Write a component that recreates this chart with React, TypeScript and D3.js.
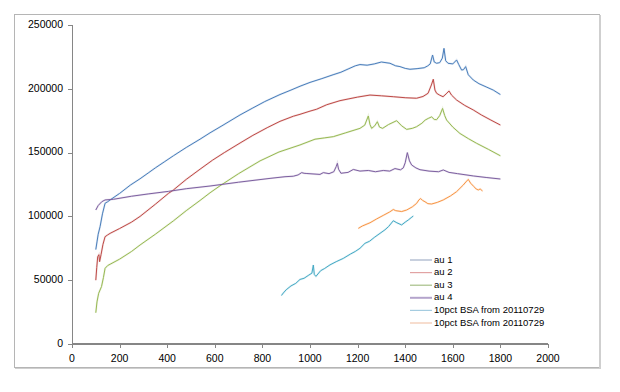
import * as d3 from "d3";

const W = 620;
const H = 392;
const MARGIN = { top: 25, right: 72, bottom: 48, left: 72 }; // plot area 72..548 x 25..344

// x ticks / y ticks
const xTicks = [0, 200, 400, 600, 800, 1000, 1200, 1400, 1600, 1800, 2000];
const yTicks = [0, 50000, 100000, 150000, 200000, 250000];

// series: [x, y]
const au1: [number, number][] = [
  [100, 74000], [105, 80000], [110, 86000], [118, 92000], [128, 102000], [139, 110300], [150, 111500],
  [160, 112900], [200, 118000], [245, 124500], [286, 129500], [320, 134000], [350, 138000], [390, 143000],
  [426, 147500], [480, 154000], [538, 160500], [580, 165500], [630, 171000], [706, 179500], [760, 185000],
  [810, 190000], [874, 195500], [920, 199000], [958, 202000], [1000, 205000], [1050, 208000],
  [1097, 211000], [1130, 213000], [1160, 215500], [1190, 218000], [1210, 219000],
  [1240, 218500], [1270, 219500], [1300, 221000], [1336, 220000], [1360, 218000], [1378, 217400],
  [1400, 216000], [1420, 215300], [1450, 215800], [1480, 216500], [1495, 218000], [1505, 219500],
  [1515, 226500], [1522, 221000], [1532, 220000], [1545, 220500], [1556, 224000], [1563, 231700],
  [1570, 222000], [1580, 220000], [1600, 219500], [1616, 222600], [1625, 219000], [1637, 214700],
  [1645, 215000], [1654, 217400], [1665, 211000], [1686, 206900], [1710, 204000], [1740, 201500],
  [1770, 199000], [1800, 195500],
];

const au2: [number, number][] = [
  [100, 50000], [104, 60000], [108, 68400], [113, 70000], [116, 64500], [122, 70000], [130, 78000],
  [139, 84100], [150, 85500], [160, 86700], [200, 90500], [250, 95500], [286, 100000], [350, 109500],
  [405, 118000], [426, 120700], [480, 129000], [538, 137000], [590, 144000], [640, 150000], [706, 157500],
  [760, 163500], [820, 169500], [874, 174500], [930, 178500], [958, 180000], [1000, 182500], [1028, 184000],
  [1070, 187500], [1126, 190700], [1160, 192000], [1200, 193500], [1252, 195100], [1300, 194500],
  [1350, 193800], [1400, 193000], [1448, 192600], [1475, 194000], [1496, 196500], [1510, 203000],
  [1518, 207500], [1525, 199000], [1532, 196500], [1545, 195000], [1559, 193800], [1572, 196000],
  [1584, 198300], [1595, 195000], [1616, 191200], [1650, 187000], [1686, 183400], [1720, 179500],
  [1760, 175500], [1800, 171600],
];

const au3: [number, number][] = [
  [100, 24500], [105, 33000], [112, 39700], [124, 45000], [132, 52000], [139, 59300], [150, 61500],
  [160, 62500], [200, 66500], [250, 72500], [286, 77600], [350, 86000], [426, 96500], [480, 104500],
  [538, 112500], [580, 118500], [622, 124000], [700, 133500], [790, 143500], [870, 150500], [958, 156000],
  [1021, 160500], [1060, 161500], [1098, 162500], [1150, 165500], [1210, 169000], [1230, 171500],
  [1245, 178700], [1252, 172000], [1259, 169000], [1272, 171000], [1283, 174200], [1292, 170000],
  [1305, 169000], [1330, 172000], [1364, 175000], [1385, 171000], [1406, 168200], [1430, 169000],
  [1448, 170300], [1470, 173000], [1484, 175500], [1497, 176800], [1511, 178000], [1522, 176000],
  [1532, 175800], [1545, 179000], [1557, 184600], [1566, 179000], [1574, 175500], [1600, 170000],
  [1630, 165000], [1665, 161000], [1700, 157300], [1750, 152500], [1800, 147500],
];

const au4: [number, number][] = [
  [100, 105000], [110, 108500], [125, 111500], [139, 112900], [174, 113400], [250, 115800], [320, 117600],
  [405, 119600], [480, 121700], [580, 123800], [700, 126800], [832, 129800], [895, 131100], [930, 131500],
  [950, 132500], [965, 134300], [975, 133800], [987, 133600], [1042, 132900], [1056, 134300],
  [1080, 133500], [1100, 135000], [1110, 139000], [1115, 141600], [1120, 137000], [1130, 133800],
  [1160, 134500], [1182, 136800], [1210, 135500], [1245, 136000], [1275, 135000], [1308, 136000],
  [1335, 135500], [1357, 137500], [1380, 136500], [1392, 138000], [1400, 142000], [1409, 150000],
  [1418, 143500], [1427, 140300], [1445, 138000], [1462, 136600], [1500, 135500], [1540, 135000],
  [1560, 136400], [1584, 134500], [1620, 133500], [1686, 131700], [1740, 130500], [1800, 129300],
];

const bsaA: [number, number][] = [
  [880, 38000], [888, 40000], [900, 42500], [920, 45500], [940, 47500], [958, 50600], [975, 51500],
  [995, 54000], [1008, 55500], [1014, 61900], [1018, 54500], [1025, 53000], [1045, 57500], [1060, 59000],
  [1084, 62000], [1110, 64500], [1140, 67100], [1170, 70500], [1190, 72500], [1210, 75000], [1231, 78900],
  [1250, 80500], [1270, 83500], [1294, 86700], [1315, 89500], [1330, 92000], [1350, 96600], [1365, 95000],
  [1385, 93300], [1400, 95500], [1413, 97200], [1425, 99000], [1434, 100300],
];

const bsaB: [number, number][] = [
  [1203, 90600], [1220, 92500], [1252, 95000], [1280, 98000], [1310, 101000], [1335, 103500],
  [1350, 105400], [1360, 104500], [1385, 103800], [1406, 105000], [1430, 107500], [1448, 110200],
  [1458, 113000], [1465, 114000], [1473, 112500], [1483, 111500], [1495, 110000], [1511, 109700],
  [1535, 111000], [1560, 112900], [1590, 116000], [1616, 119400], [1644, 124600], [1655, 127000],
  [1665, 129000], [1675, 126000], [1689, 123300], [1698, 121500], [1707, 120700], [1715, 121500],
  [1725, 119900],
];

const seriesNames = ["au 1", "au 2", "au 3", "au 4", "10pct BSA from 20110729", "10pct BSA from 20110729"];
const seriesData = [au1, au2, au3, au4, bsaA, bsaB];
const lineColors = ["#4a7ebb", "#be4b48", "#98b954", "#7d60a0", "#46aac5", "#f79646"];
const legendColors = ["#a3b1c9", "#e2a3a3", "#a6bf86", "#b4a4cc", "#a5cce0", "#f2c6ad"];

const FONT = "'Liberation Sans', Arial, sans-serif";

export default function App() {
  const x = d3.scaleLinear().domain([0, 2000]).range([MARGIN.left, W - MARGIN.right]);
  const y = d3.scaleLinear().domain([0, 250000]).range([H - MARGIN.bottom, MARGIN.top]);
  const line = d3
    .line<[number, number]>()
    .x((d) => x(d[0]))
    .y((d) => y(d[1]));

  const x0 = x(0);
  const y0 = y(0);

  return (
    <div style={{ position: "absolute", left: 0, top: 0 }}>
      <svg width={W} height={H} style={{ display: "block", background: "#fff" }}>
        {/* chart frame */}
        <rect x={14.5} y={14.5} width={585} height={353} fill="#fff" stroke="#b5b5b5" strokeWidth={1} />
        <line x1={600} x2={600} y1={15} y2={369} stroke="#cfcfcf" strokeWidth={2} />
        <line x1={15} x2={601} y1={368.5} y2={368.5} stroke="#cfcfcf" strokeWidth={1} />

        {/* series: faint halo for the noisy look, then the line itself */}
        {seriesData.map((s, i) => (
          <path key={"h" + i} d={line(s) ?? ""} fill="none" stroke={lineColors[i]} strokeOpacity={0.18} strokeWidth={2} />
        ))}
        {seriesData.map((s, i) => (
          <path key={i} d={line(s) ?? ""} fill="none" stroke={lineColors[i]} strokeWidth={1} />
        ))}

        {/* y axis */}
        <line x1={x0 + 0.5} x2={x0 + 0.5} y1={y(250000)} y2={y0} stroke="#868686" strokeWidth={1} />
        {yTicks.map((t) => (
          <g key={t}>
            <line x1={x0 - 4} x2={x0} y1={Math.round(y(t)) + 0.5} y2={Math.round(y(t)) + 0.5} stroke="#868686" />
            <text
              x={x0 - 9}
              y={y(t)}
              textAnchor="end"
              dominantBaseline="middle"
              fontSize={10.5}
              fontFamily={FONT}
              fill="#000"
            >
              {t}
            </text>
          </g>
        ))}

        {/* x axis */}
        <line x1={x0} x2={x(2000)} y1={y0} y2={y0} stroke="#868686" strokeWidth={2} />
        {xTicks.map((t) => (
          <g key={t}>
            <line x1={Math.round(x(t)) + 0.5} x2={Math.round(x(t)) + 0.5} y1={y0} y2={y0 + 4} stroke="#868686" />
            <text
              x={x(t)}
              y={y0 + 15}
              textAnchor="middle"
              dominantBaseline="middle"
              fontSize={10.5}
              fontFamily={FONT}
              fill="#000"
            >
              {t}
            </text>
          </g>
        ))}

        {/* legend */}
        {seriesNames.map((name, i) => {
          const ly = 260 + i * 12.6;
          return (
            <g key={i}>
              <line x1={410} x2={432} y1={ly} y2={ly} stroke={legendColors[i]} strokeWidth={i === 3 ? 2 : 1.2} />
              <text x={434} y={ly} dominantBaseline="middle" fontSize={9.5} fontFamily={FONT} fill="#000">
                {name}
              </text>
            </g>
          );
        })}
      </svg>
    </div>
  );
}
